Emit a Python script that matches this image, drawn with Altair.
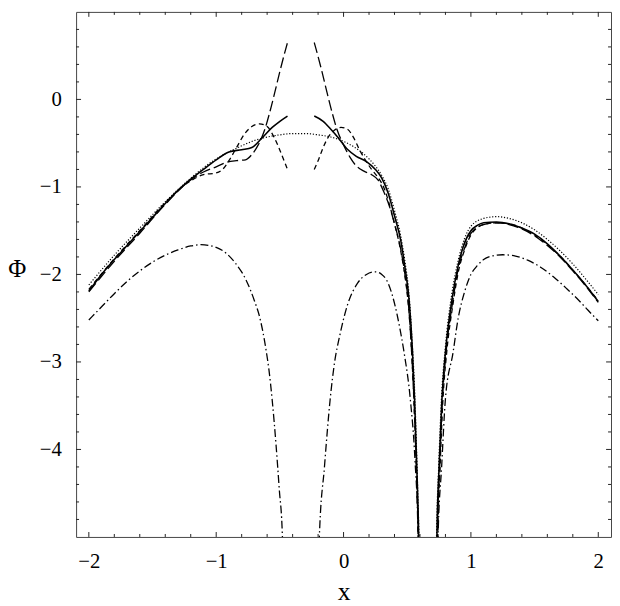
import altair as alt
import pandas as pd

# ---------------- data ----------------
x_major = [-2, -1, 0, 1, 2]
y_major = [0, -1, -2, -3, -4]
x_major_ticks = [-2, -1, 0, 1, 2]
x_minor_ticks = [-1.8, -1.6, -1.4, -1.2, -0.8, -0.6, -0.4, -0.2,
                 0.2, 0.4, 0.6, 0.8, 1.2, 1.4, 1.6, 1.8]
y_major_ticks = [-4, -3, -2, -1, 0]
y_minor_ticks = [-4.8, -4.6, -4.4, -4.2, -3.8, -3.6, -3.4, -3.2, -2.8, -2.6, -2.4, -2.2,
                 -1.8, -1.6, -1.4, -1.2, -0.8, -0.6, -0.4, -0.2, 0.2, 0.4, 0.6, 0.8]

# solid
solid_l_x = [-2.0, -1.9, -1.8, -1.7, -1.6, -1.5, -1.4, -1.3, -1.2, -1.1, -1.0, -0.9, -0.8, -0.72, -0.64, -0.56, -0.5, -0.44]
solid_l_y = [-2.19, -2.0, -1.83, -1.67, -1.51, -1.35, -1.19, -1.04, -0.91, -0.8, -0.69, -0.6, -0.575, -0.55, -0.44, -0.32, -0.25, -0.19]
solid_m_x = [-0.23, -0.16, -0.1, -0.04, 0.03, 0.1, 0.18, 0.25, 0.3, 0.35, 0.4, 0.45, 0.48, 0.515, 0.54, 0.558, 0.575, 0.59, 0.597]
solid_m_y = [-0.19, -0.25, -0.34, -0.44, -0.57, -0.65, -0.71, -0.8, -0.9, -1.07, -1.33, -1.62, -1.9, -2.3, -2.85, -3.44, -4.2, -5.0, -5.6]
solid_r_x = [0.728, 0.733, 0.75, 0.772, 0.8, 0.85, 0.9, 0.94, 1.0, 1.05, 1.1, 1.2, 1.3, 1.4, 1.5, 1.6, 1.7, 1.8, 1.9, 2.0]
solid_r_y = [-5.6, -5.0, -4.2, -3.44, -2.89, -2.3, -1.9, -1.68, -1.5, -1.44, -1.41, -1.40, -1.42, -1.47, -1.54, -1.65, -1.79, -1.95, -2.12, -2.31]

# dotted
dot_l_x = [-2.0, -1.8, -1.6, -1.4, -1.2, -1.0, -0.9, -0.8, -0.7, -0.6, -0.5, -0.4, -0.3, -0.2, -0.1, 0.0, 0.1, 0.2, 0.3, 0.35, 0.4, 0.45, 0.48, 0.515, 0.54, 0.56, 0.577, 0.592, 0.6]
dot_l_y = [-2.12, -1.78, -1.47, -1.17, -0.9, -0.68, -0.6, -0.53, -0.47, -0.43, -0.405, -0.39, -0.39, -0.405, -0.43, -0.48, -0.56, -0.68, -0.87, -1.02, -1.27, -1.57, -1.83, -2.25, -2.8, -3.4, -4.2, -5.0, -5.6]
dot_r_x = [0.725, 0.73, 0.747, 0.768, 0.8, 0.85, 0.9, 0.95, 1.0, 1.1, 1.2, 1.3, 1.4, 1.5, 1.6, 1.7, 1.8, 1.9, 2.0]
dot_r_y = [-5.6, -5.0, -4.2, -3.44, -2.82, -2.22, -1.84, -1.59, -1.45, -1.36, -1.34, -1.36, -1.41, -1.49, -1.6, -1.73, -1.88, -2.05, -2.23]

# long dash
ld_l_x = [-2.0, -1.8, -1.6, -1.4, -1.2, -1.1, -1.0, -0.92, -0.84, -0.77, -0.72, -0.67, -0.62, -0.58, -0.54, -0.5, -0.47, -0.44]
ld_l_y = [-2.2, -1.85, -1.53, -1.2, -0.92, -0.83, -0.77, -0.72, -0.7, -0.69, -0.63, -0.52, -0.35, -0.15, 0.08, 0.32, 0.49, 0.65]
ld_m_x = [-0.23, -0.2, -0.17, -0.13, -0.09, -0.05, 0.0, 0.05, 0.1, 0.16, 0.22, 0.27, 0.32, 0.36, 0.4, 0.45, 0.48, 0.51, 0.535, 0.553, 0.572, 0.587, 0.594]
ld_m_y = [0.65, 0.49, 0.32, 0.08, -0.15, -0.35, -0.52, -0.66, -0.76, -0.82, -0.86, -0.92, -1.07, -1.22, -1.42, -1.72, -1.98, -2.35, -2.9, -3.44, -4.2, -5.0, -5.6]
ld_r_x = [0.732, 0.737, 0.755, 0.776, 0.805, 0.855, 0.9, 0.95, 1.0, 1.1, 1.2, 1.3, 1.4, 1.5, 1.6, 1.7, 1.8, 1.9, 2.0]
ld_r_y = [-5.6, -5.0, -4.2, -3.44, -2.89, -2.33, -1.94, -1.7, -1.53, -1.43, -1.41, -1.43, -1.48, -1.56, -1.67, -1.8, -1.96, -2.13, -2.32]

# short dash
sd_l_x = [-2.0, -1.8, -1.6, -1.4, -1.2, -1.1, -1.0, -0.95, -0.9, -0.84, -0.78, -0.72, -0.66, -0.6, -0.55, -0.5, -0.47, -0.44]
sd_l_y = [-2.17, -1.82, -1.5, -1.18, -0.93, -0.86, -0.84, -0.8, -0.7, -0.55, -0.4, -0.31, -0.28, -0.31, -0.42, -0.58, -0.69, -0.8]
sd_m_x = [-0.23, -0.2, -0.16, -0.12, -0.07, -0.02, 0.03, 0.08, 0.12, 0.17, 0.22, 0.27, 0.32, 0.36, 0.4, 0.45, 0.48, 0.51, 0.535, 0.552, 0.571, 0.586, 0.593]
sd_m_y = [-0.8, -0.7, -0.55, -0.43, -0.35, -0.32, -0.34, -0.44, -0.56, -0.69, -0.8, -0.89, -1.02, -1.2, -1.42, -1.74, -2.0, -2.37, -2.9, -3.44, -4.2, -5.0, -5.6]
sd_r_x = [0.735, 0.74, 0.758, 0.78, 0.81, 0.86, 0.9, 0.95, 1.0, 1.1, 1.2, 1.3, 1.4, 1.5, 1.6, 1.7, 1.8, 1.9, 2.0]
sd_r_y = [-5.6, -5.0, -4.2, -3.44, -2.89, -2.33, -1.98, -1.72, -1.55, -1.43, -1.41, -1.42, -1.47, -1.55, -1.66, -1.79, -1.95, -2.12, -2.3]

# dash-dot
dd_l_x = [-2.0, -1.9, -1.8, -1.7, -1.6, -1.5, -1.4, -1.3, -1.2, -1.12, -1.05, -1.0, -0.92, -0.85, -0.77, -0.7, -0.66, -0.61, -0.585, -0.56, -0.53, -0.505, -0.48, -0.472]
dd_l_y = [-2.52, -2.37, -2.22, -2.08, -1.96, -1.86, -1.78, -1.72, -1.675, -1.66, -1.67, -1.69, -1.76, -1.87, -2.05, -2.3, -2.48, -2.85, -3.1, -3.44, -3.95, -4.45, -5.0, -5.6]
dd_m_x = [-0.198, -0.19, -0.15, -0.106, -0.07, -0.03, 0.035, 0.11, 0.18, 0.25, 0.3, 0.34, 0.4, 0.44, 0.475, 0.525, 0.56, 0.585, 0.592]
dd_m_y = [-5.6, -5.0, -4.2, -3.44, -3.0, -2.7, -2.33, -2.1, -2.0, -1.97, -2.0, -2.07, -2.33, -2.6, -2.89, -3.44, -4.1, -5.0, -5.6]
dd_r_x = [0.735, 0.742, 0.77, 0.8, 0.86, 0.9, 0.95, 1.0, 1.05, 1.1, 1.18, 1.25, 1.35, 1.45, 1.55, 1.65, 1.75, 1.85, 1.92, 2.0]
dd_r_y = [-5.6, -5.0, -4.2, -3.42, -2.89, -2.5, -2.2, -2.0, -1.9, -1.83, -1.785, -1.775, -1.79, -1.84, -1.92, -2.03, -2.16, -2.3, -2.41, -2.53]

segments = [
    ("solid", "l", solid_l_x, solid_l_y), ("solid", "m", solid_m_x, solid_m_y), ("solid", "r", solid_r_x, solid_r_y),
    ("dot", "l", dot_l_x, dot_l_y), ("dot", "r", dot_r_x, dot_r_y),
    ("ld", "l", ld_l_x, ld_l_y), ("ld", "m", ld_m_x, ld_m_y), ("ld", "r", ld_r_x, ld_r_y),
    ("sd", "l", sd_l_x, sd_l_y), ("sd", "m", sd_m_x, sd_m_y), ("sd", "r", sd_r_x, sd_r_y),
    ("dd", "l", dd_l_x, dd_l_y), ("dd", "m", dd_m_x, dd_m_y), ("dd", "r", dd_r_x, dd_r_y),
]
rows = []
for curve, seg, xs_, ys_ in segments:
    for i, (a, b) in enumerate(zip(xs_, ys_)):
        rows.append({"curve": curve, "seg": curve + seg, "x": a, "y": b, "i": i})
df = pd.DataFrame(rows)

x_tick_df = pd.DataFrame({"t": x_major_ticks + x_minor_ticks,
                          "major": [True] * len(x_major_ticks) + [False] * len(x_minor_ticks)})
y_tick_df = pd.DataFrame({"t": y_major_ticks + y_minor_ticks,
                          "major": [True] * len(y_major_ticks) + [False] * len(y_minor_ticks)})

# ---------------- layout ----------------
W, H = 542, 532
FONT = "Liberation Serif"
TICK_COLOR = "#222222"
MAJOR, MINOR = 5, 3

xscale = alt.Scale(domain=[-2.1, 2.1], nice=False, zero=False)
yscale = alt.Scale(domain=[-5, 1], nice=False, zero=False)

ax_x_label = alt.Axis(orient="bottom", values=x_major, ticks=False, domain=False, grid=False,
                      labelFont=FONT, labelFontSize=21, labelColor="black", labelPadding=14,
                      title="x", titleFont=FONT, titleFontSize=26, titleFontWeight="normal",
                      titleColor="black", titleX=W / 2, titleY=63, titleAlign="center",
                      titleBaseline="alphabetic")
ax_y_label = alt.Axis(orient="left", values=y_major, ticks=False, domain=False, grid=False,
                      labelFont=FONT, labelFontSize=21, labelColor="black", labelPadding=15,
                      title="Φ", titleFont=FONT, titleFontSize=25, titleFontWeight="normal",
                      titleColor="black", titleAngle=0, titleX=-60, titleY=260,
                      titleAlign="center", titleBaseline="middle")

label_layer = (
    alt.Chart(df)
    .mark_point(opacity=0, clip=True)
    .encode(x=alt.X("x:Q", scale=xscale, axis=ax_x_label),
            y=alt.Y("y:Q", scale=yscale, axis=ax_y_label))
)


def x_ticks(major, y0, y1):
    return (
        alt.Chart(x_tick_df)
        .transform_filter(alt.datum.major == major)
        .mark_rule(color=TICK_COLOR, strokeWidth=1)
        .encode(x=alt.X("t:Q", scale=xscale, axis=None), y=alt.value(y0), y2=alt.value(y1))
    )


def y_ticks(major, x0, x1):
    return (
        alt.Chart(y_tick_df)
        .transform_filter(alt.datum.major == major)
        .mark_rule(color=TICK_COLOR, strokeWidth=1)
        .encode(y=alt.Y("t:Q", scale=yscale, axis=None), x=alt.value(x0), x2=alt.value(x1))
    )


tick_layers = [
    x_ticks(True, H, H - MAJOR), x_ticks(False, H, H - MINOR),
    x_ticks(True, 0, MAJOR), x_ticks(False, 0, MINOR),
    y_ticks(True, 0, MAJOR), y_ticks(False, 0, MINOR),
    y_ticks(True, W, W - MAJOR), y_ticks(False, W, W - MINOR),
]


def curve_layer(name, width, dash):
    mark_kwargs = dict(clip=True, color="black", strokeWidth=width, interpolate="monotone")
    if dash:
        mark_kwargs["strokeDash"] = dash
    return (
        alt.Chart(df)
        .transform_filter(alt.datum.curve == name)
        .mark_line(**mark_kwargs)
        .encode(
            x=alt.X("x:Q", scale=xscale, axis=None),
            y=alt.Y("y:Q", scale=yscale, axis=None),
            detail="seg:N",
            order="i:Q",
        )
    )


curve_layers = [
    curve_layer("dot", 1.2, [1.2, 1.8]),
    curve_layer("dd", 1.3, [8, 3, 1.5, 3]),
    curve_layer("sd", 1.3, [5, 3.5]),
    curve_layer("ld", 1.3, [11, 4]),
    curve_layer("solid", 1.6, None),
]

chart = (
    alt.layer(label_layer, *tick_layers, *curve_layers)
    .resolve_axis(x="independent", y="independent")
    .properties(
        width=W,
        height=H,
        autosize=alt.AutoSizeParams(type="none"),
        padding={"left": 69, "top": 0, "right": 1, "bottom": 66},
        background="white",
    )
    .configure(font=FONT)
    .configure_axis(labelFont=FONT, titleFont=FONT)
    .configure_view(stroke="#444444", strokeWidth=1)
)

chart.save("out.html", embed_options={"renderer": "svg", "actions": False})
